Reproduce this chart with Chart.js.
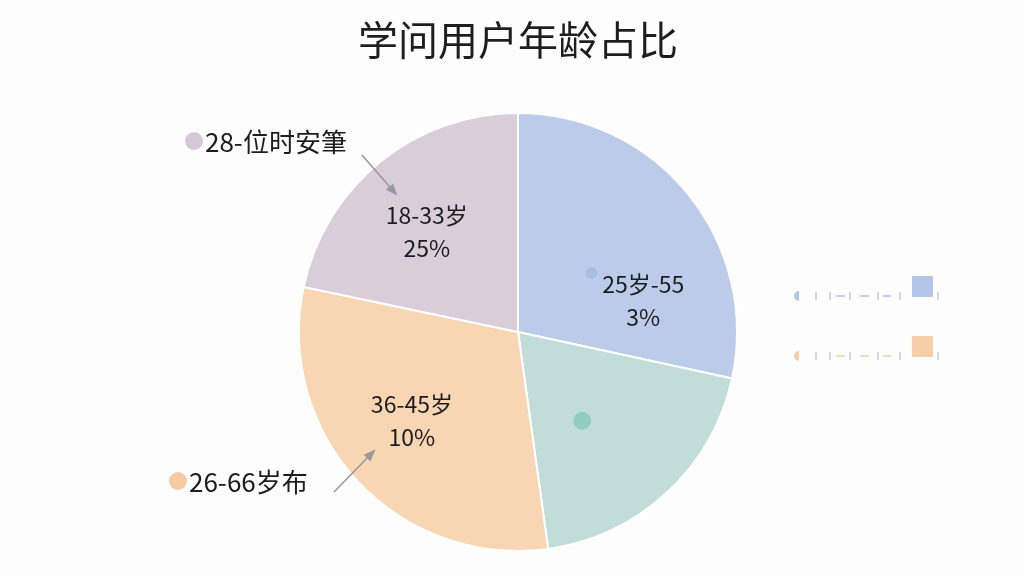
<!DOCTYPE html>
<html>
<head>
<meta charset="utf-8">
<script src="https://cdn.jsdelivr.net/npm/chart.js@4/dist/chart.umd.min.js"></script>
<style>
html,body{margin:0;padding:0;background:#fdfdfd;}
#wrap{width:1024px;height:576px;position:relative;}
</style>
</head>
<body>
<div id="wrap"><canvas id="c" width="1024" height="576"></canvas></div>
<script>
const TITLE = "学问用户年龄占比";
const categories = ["25岁-55", "36-45岁", "18-33岁", "18-33岁"];
const values = [28.4, 19.4, 30.5, 21.7];
const colors = ["#bccbe9", "#c2ddd9", "#f8d5b3", "#d8cdd9"];
const innerLine1 = ["25岁-55", "", "36-45岁", "18-33岁"];
const innerLine2 = ["3%", "", "10%", "25%"];
const outerLabels = ["", "", "26-66岁布", "28-位时安筆"];

const FONT = '"Noto Sans CJK SC", "Noto Sans", sans-serif';

const decor = {
  id: 'decor',
  afterDraw(chart) {
    const ctx = chart.ctx;
    const meta = chart.getDatasetMeta(0);
    const arcs = meta.data;
    ctx.save();
    // title
    ctx.fillStyle = '#1e1e1e';
    ctx.font = '40px ' + FONT;
    ctx.textAlign = 'center';
    ctx.textBaseline = 'middle';
    ctx.fillText(TITLE, 518, 40);

    const pt = (arc, frac, rfrac) => {
      const a = arc.startAngle + (arc.endAngle - arc.startAngle) * frac;
      const r = arc.outerRadius * rfrac;
      return {x: arc.x + Math.cos(a) * r, y: arc.y + Math.sin(a) * r};
    };
    // inner labels
    const labelPos = [[0.74, 0.59], null, [0.53, 0.63], [0.46, 0.62]];
    ctx.fillStyle = '#1c1c1c';
    ctx.font = '23px ' + FONT;
    arcs.forEach((arc, i) => {
      if (!labelPos[i]) return;
      const p = pt(arc, labelPos[i][0], labelPos[i][1]);
      ctx.fillText(innerLine1[i], p.x, p.y - 16);
      ctx.fillText(innerLine2[i], p.x, p.y + 17);
    });
    // dots inside
    const b = pt(arcs[0], 0.5, 0.43);
    ctx.fillStyle = '#a7bde6';
    ctx.beginPath(); ctx.arc(b.x, b.y, 6, 0, Math.PI * 2); ctx.fill();
    const g = pt(arcs[1], 0.6, 0.5);
    ctx.fillStyle = '#8fcdbf';
    ctx.beginPath(); ctx.arc(g.x, g.y, 9, 0, Math.PI * 2); ctx.fill();

    // outside labels with dots and arrows
    ctx.textAlign = 'left';
    ctx.font = '26px ' + FONT;
    // purple
    ctx.fillStyle = '#d5c9d8';
    ctx.beginPath(); ctx.arc(194, 141, 9, 0, Math.PI * 2); ctx.fill();
    ctx.fillStyle = '#1c1c1c';
    ctx.fillText(outerLabels[3], 205, 142);
    // orange
    ctx.fillStyle = '#f5c9a2';
    ctx.beginPath(); ctx.arc(178, 481, 9, 0, Math.PI * 2); ctx.fill();
    ctx.fillStyle = '#1c1c1c';
    ctx.fillText(outerLabels[2], 189, 482);

    const arrow = (x1, y1, x2, y2) => {
      ctx.strokeStyle = '#9a9a9a';
      ctx.fillStyle = '#9a9a9a';
      ctx.lineWidth = 1.6;
      ctx.beginPath(); ctx.moveTo(x1, y1); ctx.lineTo(x2, y2); ctx.stroke();
      const a = Math.atan2(y2 - y1, x2 - x1);
      const L = 11, W = 0.45;
      ctx.beginPath();
      ctx.moveTo(x2 + Math.cos(a) * 2, y2 + Math.sin(a) * 2);
      ctx.lineTo(x2 - Math.cos(a - W) * L, y2 - Math.sin(a - W) * L);
      ctx.lineTo(x2 - Math.cos(a + W) * L, y2 - Math.sin(a + W) * L);
      ctx.closePath(); ctx.fill();
    };
    arrow(362, 155, 396, 194);
    arrow(334, 492, 374, 451);

    // right faint legend
    const rows = [{y: 296, c: '#b4c6ea'}, {y: 356, c: '#f6cfa8'}];
    rows.forEach(r => {
      ctx.fillStyle = r.c;
      ctx.beginPath(); ctx.arc(799, r.y, 5, Math.PI / 2, Math.PI * 1.5); ctx.fill();
      ctx.strokeStyle = '#c0c0c0';
      ctx.lineWidth = 1.2;
      [816, 830, 850, 878, 900, 938].forEach(x => {
        ctx.beginPath(); ctx.moveTo(x, r.y - 4); ctx.lineTo(x, r.y + 4); ctx.stroke();
      });
      ctx.strokeStyle = r.c;
      ctx.lineWidth = 1.6;
      [[836, 845], [860, 869], [883, 891]].forEach(s => {
        ctx.beginPath(); ctx.moveTo(s[0], r.y); ctx.lineTo(s[1], r.y); ctx.stroke();
      });
      ctx.fillStyle = r.c;
      ctx.fillRect(912, r.y - 20, 21, 21);
    });
    ctx.restore();
  }
};

new Chart(document.getElementById('c'), {
  type: 'pie',
  data: {
    labels: categories,
    datasets: [{
      data: values,
      backgroundColor: colors,
      borderColor: '#ffffff',
      borderWidth: 2
    }]
  },
  options: {
    responsive: false,
    animation: false,
    layout: {padding: {top: 112, bottom: 24, left: 12, right: 0}},
    plugins: {legend: {display: false}, tooltip: {enabled: false}, title: {display: false}}
  },
  plugins: [decor]
});
</script>
</body>
</html>
